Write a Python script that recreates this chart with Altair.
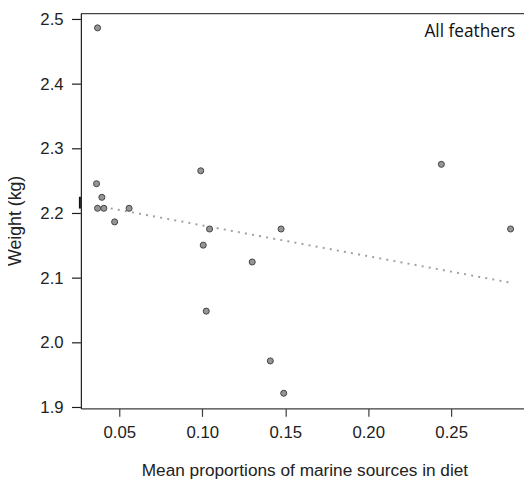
import altair as alt
import pandas as pd

# Data
marine = [0.0369, 0.0363, 0.0395, 0.0369, 0.0407, 0.0559, 0.0472, 0.0991, 0.1044,
          0.1475, 0.1006, 0.1301, 0.1024, 0.1410, 0.1491, 0.2441, 0.2858]
weight = [2.487, 2.246, 2.225, 2.208, 2.208, 2.208, 2.187, 2.266, 2.176,
          2.176, 2.151, 2.125, 2.049, 1.972, 1.922, 2.276, 2.176]
fit_x = [0.0363, 0.2858]
fit_y = [2.212, 2.093]
x_ticks = [0.05, 0.10, 0.15, 0.20, 0.25]
y_ticks = [1.9, 2.0, 2.1, 2.2, 2.3, 2.4, 2.5]
panel_label = ["All feathers"]

pts = pd.DataFrame({"x": marine, "y": weight})
fit = pd.DataFrame({"x": fit_x, "y": fit_y})
lab = pd.DataFrame({"t": panel_label})
yt = pd.DataFrame({"y": y_ticks})

W, H = 450, 401
xs = alt.Scale(domain=[0.02685, 0.2939], nice=False, zero=False)
ys = alt.Scale(domain=[1.8985, 2.5091], nice=False, zero=False)

xaxis = alt.Axis(values=x_ticks, format=".2f", grid=False,
                 domainColor="#3c3c3c", domainWidth=1.2,
                 tickColor="#3c3c3c", tickWidth=1.2, tickSize=8, labelPadding=8,
                 title="Mean proportions of marine sources in diet",
                 titleBaseline="alphabetic", titleY=68, titleX=227, titleFontSize=17.5)
yaxis = alt.Axis(values=y_ticks, format=".1f", grid=False,
                 domainColor="#1c1c1c", domainWidth=1.2,
                 ticks=False, labelPadding=18,
                 title="Weight (kg)", titleFontSize=18,
                 titleBaseline="alphabetic", titleX=-61, titleY=210)

line = alt.Chart(fit).mark_line(color="#a0a0a0", strokeWidth=2, strokeDash=[2, 5.3]).encode(
    x=alt.X("x:Q", scale=xs, axis=xaxis),
    y=alt.Y("y:Q", scale=ys, axis=yaxis),
)

points = alt.Chart(pts).mark_point(filled=True, shape="circle", size=38, fill="#959595",
                                   stroke="#444", strokeWidth=1, opacity=1).encode(
    x=alt.X("x:Q", scale=xs),
    y=alt.Y("y:Q", scale=ys),
)

top_line = alt.Chart(lab).mark_rect(color="#454545").encode(
    x=alt.value(0), x2=alt.value(W), y=alt.value(-0.6), y2=alt.value(0.6)
)
y_tick_marks = alt.Chart(yt).mark_tick(orient="horizontal", color="#1c1c1c", thickness=1.2,
                                       size=9, opacity=1).encode(
    y=alt.Y("y:Q", scale=ys), x=alt.value(-4.5)
)
mark_bit = alt.Chart(lab).mark_rect(color="#111").encode(
    x=alt.value(-2), x2=alt.value(0), y=alt.value(186), y2=alt.value(198)
)

text = alt.Chart(lab).mark_text(align="right", baseline="alphabetic", font="Open Sans",
                                fontSize=17.5, color="#111").encode(
    x=alt.value(441), y=alt.value(24), text="t:N"
)

chart = alt.layer(line, points, top_line, y_tick_marks, mark_bit, text).properties(
    width=W, height=H,
    background="white",
    autosize=alt.AutoSizeParams(type="none"),
    padding={"left": 74, "top": 2, "right": 0, "bottom": 70},
).configure_view(
    stroke=None
).configure_axis(
    labelFont="Liberation Sans", labelFontSize=17, labelColor="#222222",
    titleFont="Liberation Sans", titleFontWeight="normal", titleColor="#222222",
)

chart.save("out.html", embed_options={"renderer": "svg", "actions": False})
